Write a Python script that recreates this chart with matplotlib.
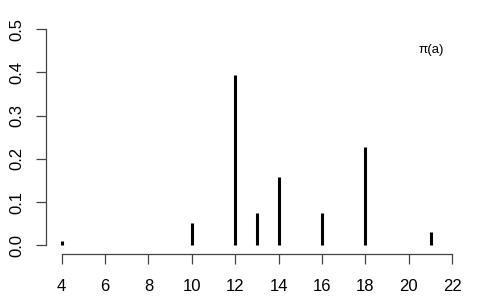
import matplotlib
matplotlib.use("Agg")
import matplotlib.pyplot as plt

# 분포 값 (x 위치와 확률)
a_values = [4, 10, 12, 13, 14, 16, 18, 21]
pi_values = [0.010, 0.051, 0.394, 0.075, 0.158, 0.074, 0.228, 0.032]
x_ticks = [4, 6, 8, 10, 12, 14, 16, 18, 20, 22]
y_ticks = [0.0, 0.1, 0.2, 0.3, 0.4, 0.5]
legend_label = "π(a)"

plt.rcParams['font.family'] = ['Liberation Sans', 'DejaVu Sans']

fig = plt.figure(figsize=(4.8, 3.0), dpi=100)
ax = fig.add_axes([0.0958, 0.1533, 0.879, 0.778])

ax.vlines(a_values, 0, pi_values, colors='black', linewidth=2.2)

ax.set_xlim(3.28, 22.72)
ax.set_ylim(-0.02, 0.52)

for side in ['top', 'right']:
    ax.spines[side].set_visible(False)
ax.spines['left'].set_bounds(0, 0.5)
ax.spines['bottom'].set_bounds(4, 22)
for side in ['left', 'bottom']:
    ax.spines[side].set_color('#444444')
    ax.spines[side].set_linewidth(0.9)

ax.set_xticks(x_ticks)
ax.set_xticklabels([str(t) for t in x_ticks])
ax.set_yticks(y_ticks)
ax.set_yticklabels([f"{t:.1f}" for t in y_ticks], rotation=90, va='center')
ax.tick_params(axis='both', length=7.5, width=0.9, color='#444444', labelsize=12)
ax.tick_params(axis='x', pad=10.5)
ax.tick_params(axis='y', pad=8)

# 범례 텍스트 (오른쪽 위)
fig.text(431 / 480, 1 - 50 / 300, legend_label, fontsize=9.5,
         ha='center', va='center')

fig.savefig("out.png", dpi=100)
